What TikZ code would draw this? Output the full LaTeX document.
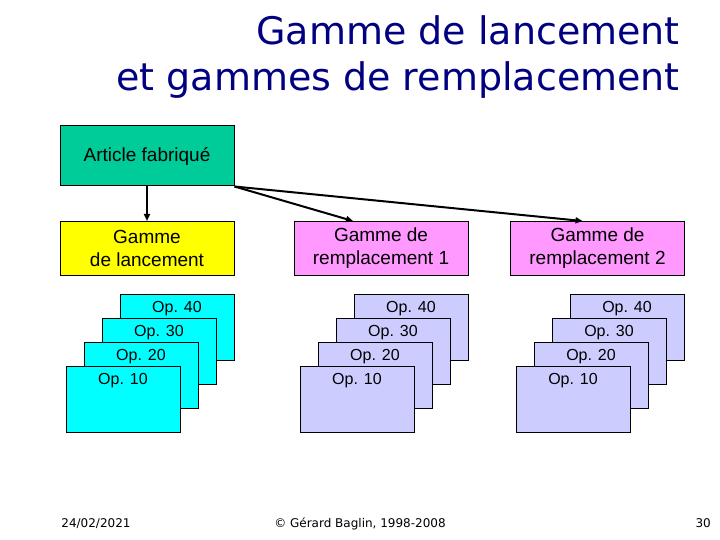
\documentclass[tikz,border=0pt]{standalone}
\usepackage{fontspec}
\setmainfont{Liberation Sans}
\newfontfamily\tahoma{DejaVu Sans}
\usetikzlibrary{arrows.meta}
\definecolor{titleblue}{RGB}{0,0,128}
\definecolor{articlegreen}{RGB}{0,204,153}
\definecolor{gammeyellow}{RGB}{255,255,0}
\definecolor{gammepink}{RGB}{255,153,255}
\definecolor{opcyan}{RGB}{0,255,255}
\definecolor{oplavender}{RGB}{204,204,255}
\tikzset{
  gbox/.style={draw, line width=1pt, inner sep=0pt, minimum width=174pt, minimum height=54pt,
    align=center, font=\fontsize{19}{23}\selectfont},
  opbox/.style={draw, line width=1pt, inner sep=0pt, minimum width=114pt, minimum height=66pt},
  oplabel/.style={anchor=north, yshift=-4pt, font=\fontsize{16}{19}\selectfont},
  flow/.style={line width=2pt, -{Triangle[length=7pt,width=6pt]}}
}
\begin{document}
\begin{tikzpicture}[x=1pt, y=-1pt]
	\useasboundingbox (0,0) rectangle (720,540);
	% title
	\node[anchor=north east, align=right, text=titleblue, font=\tahoma\fontsize{38}{46}\selectfont, inner sep=0pt] (title) at (680,15) {Gamme de lancement\\et gammes de remplacement};
	% gammes
	\node[gbox, fill=articlegreen, minimum height=60pt] (art) at (147,156) {Article fabriqué};
	\node[gbox, fill=gammeyellow] (gl) at (147,248.5) {Gamme\\de lancement};
	\node[gbox, fill=gammepink] (g1) at (381,248.5) {Gamme de\\remplacement 1};
	\node[gbox, fill=gammepink] (g2) at (597.5,248.5) {Gamme de\\remplacement 2};
	\draw[flow] (art.south) -- (gl.north);
	\draw[flow] (art.south east) -- ([xshift=-28pt]g1.north);
	\draw[flow] (art.south east) -- ([xshift=-15pt]g2.north);
	% operations, gamme de lancement
	\node[opbox, fill=opcyan, label={[oplabel]north:Op. 40}] (a40) at (177,327) {};
	\node[opbox, fill=opcyan, label={[oplabel]north:Op. 30}] (a30) at (159,351) {};
	\node[opbox, fill=opcyan, label={[oplabel]north:Op. 20}] (a20) at (141,375) {};
	\node[opbox, fill=opcyan, label={[oplabel]north:Op. 10}] (a10) at (123,399) {};
	% operations, remplacement 1
	\node[opbox, fill=oplavender, label={[oplabel]north:Op. 40}] (b40) at (411,327) {};
	\node[opbox, fill=oplavender, label={[oplabel]north:Op. 30}] (b30) at (393,351) {};
	\node[opbox, fill=oplavender, label={[oplabel]north:Op. 20}] (b20) at (375,375) {};
	\node[opbox, fill=oplavender, label={[oplabel]north:Op. 10}] (b10) at (357,399) {};
	% operations, remplacement 2
	\node[opbox, fill=oplavender, label={[oplabel]north:Op. 40}] (c40) at (627,327) {};
	\node[opbox, fill=oplavender, label={[oplabel]north:Op. 30}] (c30) at (609,351) {};
	\node[opbox, fill=oplavender, label={[oplabel]north:Op. 20}] (c20) at (591,375) {};
	\node[opbox, fill=oplavender, label={[oplabel]north:Op. 10}] (c10) at (573,399) {};
	% footer
	\node[anchor=base, font=\tahoma\fontsize{12}{14}\selectfont] (date) at (96,527) {24/02/2021};
	\node[anchor=base, font=\tahoma\fontsize{12}{14}\selectfont] (copy) at (360,527) {© Gérard Baglin, 1998-2008};
	\node[anchor=base east, font=\tahoma\fontsize{12}{14}\selectfont, inner sep=0pt] (page) at (711,527) {30};
\end{tikzpicture}
\end{document}
